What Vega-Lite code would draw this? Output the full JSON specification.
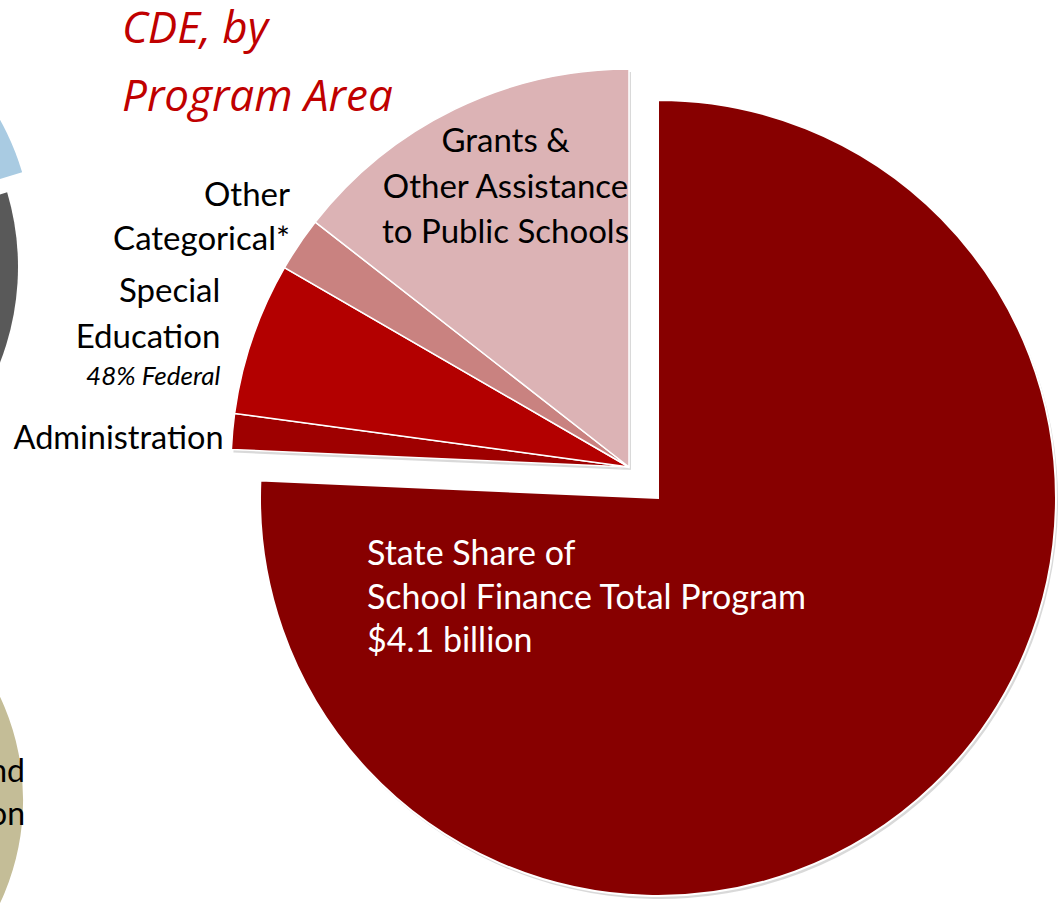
{
  "$schema": "https://vega.github.io/schema/vega-lite/v6.json",
  "width": 870,
  "height": 872,
  "autosize": {"type": "none"},
  "padding": {"left": 194, "top": 31, "right": 0, "bottom": 0},
  "background": "white",
  "config": {"view": {"stroke": null}, "font": "Lato"},
  "title": {
    "text": ["CDE, by", "Program Area"],
    "anchor": "start",
    "frame": "group",
    "font": "Open Sans",
    "fontSize": 44,
    "fontStyle": "italic",
    "fontWeight": "normal",
    "color": "#C00000",
    "lineHeight": 68,
    "baseline": "alphabetic",
    "offset": 0,
    "dx": -72,
    "dy": 170
  },
  "datasets": {
    "cde": [
      {"program": "State Share of School Finance Total Program", "value": 75.7, "order": 1, "label": "State Share of\nSchool Finance Total Program\n$4.1 billion", "note": ""},
      {"program": "Administration", "value": 1.45, "order": 2, "label": "Administration", "note": ""},
      {"program": "Special Education", "value": 6.2, "order": 3, "label": "Special\nEducation", "note": "48% Federal"},
      {"program": "Other Categorical", "value": 2.2, "order": 4, "label": "Other\nCategorical*", "note": ""},
      {"program": "Grants & Other Assistance to Public Schools", "value": 14.45, "order": 5, "label": "Grants &\nOther Assistance\nto Public Schools", "note": ""}
    ],
    "budget": [
      {"program": "Budget area A", "value": 20.4, "order": 1},
      {"program": "Budget area B", "value": 30, "order": 2},
      {"program": "Budget area C", "value": 49.6, "order": 3}
    ],
    "budget2": [
      {"program": "Budget area D", "value": 100, "order": 1, "label": "nd\non"}
    ]
  },
  "encoding": {
    "theta": {"field": "value", "type": "quantitative", "stack": true},
    "order": {"field": "order", "type": "quantitative"},
    "color": {
      "field": "program",
      "type": "nominal",
      "legend": null,
      "scale": {
        "domain": ["State Share of School Finance Total Program", "Administration", "Special Education", "Other Categorical", "Grants & Other Assistance to Public Schools", "Budget area A", "Budget area B", "Budget area C", "Budget area D"],
        "range": ["#870000", "#9E0000", "#B30000", "#C98280", "#DCB3B5", "#A9CBE2", "#595959", "#8FA8C8", "#C4BD97"]
      }
    }
  },
  "layer": [
    {
      "data": {"name": "budget"},
      "mark": {"type": "arc", "outerRadius": 262, "x": -423, "y": 216},
      "encoding": {"opacity": {"condition": {"test": "datum.order === 1", "value": 1}, "value": 0}}
    },
    {
      "data": {"name": "budget"},
      "mark": {"type": "arc", "outerRadius": 262, "x": -438, "y": 236},
      "encoding": {"opacity": {"condition": {"test": "datum.order === 2", "value": 1}, "value": 0}}
    },
    {
      "data": {"name": "budget2"},
      "mark": {"type": "arc", "outerRadius": 242, "x": -413, "y": 769}
    },
    {
      "data": {"name": "budget2"},
      "mark": {"type": "text", "x": -169, "y": 751, "align": "right", "baseline": "alphabetic", "lineBreak": "\n", "fontSize": 32, "lineHeight": 43, "color": "black"},
      "encoding": {"text": {"field": "label"}, "color": {"value": "black"}}
    },
    {
      "data": {"name": "cde"},
      "mark": {"type": "arc", "outerRadius": 398, "x": {"expr": "width/2+2"}, "y": {"expr": "height/2+3"}},
      "encoding": {"color": {"value": "#cfcfcf"}, "opacity": {"condition": {"test": "datum.order === 1", "value": 0}, "value": 0.8}}
    },
    {
      "data": {"name": "cde"},
      "mark": {"type": "arc", "outerRadius": 398, "x": {"expr": "width/2+31"}, "y": {"expr": "height/2+34"}},
      "encoding": {"color": {"value": "#cfcfcf"}, "opacity": {"condition": {"test": "datum.order === 1", "value": 0.8}, "value": 0}}
    },
    {
      "data": {"name": "cde"},
      "mark": {"type": "arc", "outerRadius": 398, "stroke": "white", "strokeWidth": 1.5},
      "encoding": {"opacity": {"condition": {"test": "datum.order === 1", "value": 0}, "value": 1}}
    },
    {
      "data": {"name": "cde"},
      "mark": {"type": "arc", "outerRadius": 398, "stroke": "white", "strokeWidth": 2, "x": {"expr": "width/2+29"}, "y": {"expr": "height/2+31"}},
      "encoding": {"opacity": {"condition": {"test": "datum.order === 1", "value": 1}, "value": 0}}
    },
    {
      "data": {"name": "cde"},
      "mark": {"type": "text", "radius": 350, "dx": 30, "align": "center", "baseline": "alphabetic", "lineBreak": "\n", "fontSize": 33, "lineHeight": 45.5},
      "encoding": {"text": {"condition": {"test": "datum.order === 5", "field": "label"}, "value": ""}, "color": {"value": "black"}}
    },
    {
      "data": {"name": "cde"},
      "mark": {"type": "text", "radius": 409, "dy": -32, "align": "right", "baseline": "alphabetic", "lineBreak": "\n", "fontSize": 33, "lineHeight": 44},
      "encoding": {"text": {"condition": {"test": "datum.order === 4", "field": "label"}, "value": ""}, "color": {"value": "black"}}
    },
    {
      "data": {"name": "cde"},
      "mark": {"type": "text", "radius": 432, "dy": -25, "align": "right", "baseline": "alphabetic", "lineBreak": "\n", "fontSize": 33, "lineHeight": 45.6},
      "encoding": {"text": {"condition": {"test": "datum.order === 3", "field": "label"}, "value": ""}, "color": {"value": "black"}}
    },
    {
      "data": {"name": "cde"},
      "mark": {"type": "text", "radius": 432, "dy": 58, "align": "right", "baseline": "alphabetic", "fontSize": 26, "fontStyle": "italic"},
      "encoding": {"text": {"condition": {"test": "datum.order === 3", "field": "note"}, "value": ""}, "color": {"value": "black"}}
    },
    {
      "data": {"name": "cde"},
      "mark": {"type": "text", "radius": 407, "dy": 18, "align": "right", "baseline": "alphabetic", "fontSize": 32.5},
      "encoding": {"text": {"condition": {"test": "datum.order === 2", "field": "label"}, "value": ""}, "color": {"value": "black"}}
    },
    {
      "data": {"name": "cde"},
      "transform": [{"filter": "datum.order === 1"}],
      "mark": {"type": "text", "x": {"expr": "width/2+29"}, "y": {"expr": "height/2+31"}, "dx": -291, "dy": 67, "align": "left", "baseline": "alphabetic", "lineBreak": "\n", "fontSize": 34, "lineHeight": 43.5},
      "encoding": {"text": {"field": "label"}, "color": {"value": "white"}, "theta": null, "order": null}
    }
  ]
}
